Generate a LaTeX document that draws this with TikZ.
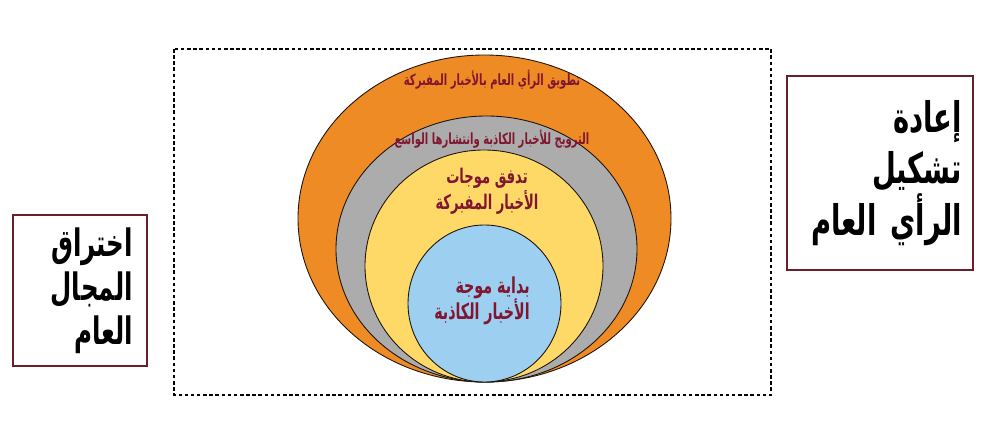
\documentclass[tikz,border=0pt]{standalone}
\usepackage{fontspec}
\newfontfamily\arabicfont[Script=Arabic,FakeStretch=0.65]{DejaVu Sans}
\TeXXeTstate=1
\definecolor{ringorange}{RGB}{239,139,36}
\definecolor{ringgray}{RGB}{172,172,172}
\definecolor{ringyellow}{RGB}{255,217,104}
\definecolor{ringblue}{RGB}{157,207,240}
\definecolor{wine}{RGB}{128,22,48}
\definecolor{boxred}{RGB}{105,30,42}
\begin{document}
\begin{tikzpicture}[x=0.02cm,y=-0.02cm,
  ring/.style={draw=black!85!brown,line width=0.5pt},
  ringtext/.style={text=wine,align=center,inner sep=0pt},
  sidebox/.style={draw=boxred,line width=1.2pt,align=right,text=black}]
\useasboundingbox (0,0) rectangle (1000,429);
% frame round the rings
\draw[line width=0.8pt,dash pattern=on 2pt off 1.5pt] (174,49) rectangle (771,395);
% rings, all touching at the bottom
\filldraw[ring,fill=ringorange] (484.5,218.5) ellipse [x radius=186.5,y radius=163.5];
\filldraw[ring,fill=ringgray] (486.5,249) ellipse [x radius=150.5,y radius=133];
\filldraw[ring,fill=ringyellow] (484,266) ellipse [x radius=119,y radius=116];
\filldraw[ring,fill=ringblue] (484.5,303.5) ellipse [x radius=76.5,y radius=78.5];
% ring labels
\node[ringtext,font=\arabicfont\bfseries\fontsize{8.8}{10}\selectfont] (surround) at (492,80) {\beginR تطويق الرأي العام بالأخبار المفبركة\endR};
\node[ringtext,font=\arabicfont\bfseries\fontsize{8.8}{10}\selectfont] (promote) at (492,139) {\beginR الترويج للأخبار الكاذبة وانتشارها الواسع\endR};
\node[ringtext,font=\arabicfont\bfseries\fontsize{11.5}{13}\selectfont] (flow) at (487,191) {\beginR تدفق موجات\endR\\\beginR الأخبار المفبركة\endR};
\node[ringtext,align=right,font=\arabicfont\bfseries\fontsize{12.5}{15}\selectfont] (start) at (482,301) {\beginR بداية موجة\endR\\\beginR الأخبار الكاذبة\endR};
% side boxes
\node[sidebox,minimum width=2.68cm,minimum height=3.02cm,text width=2.12cm,inner xsep=0.28cm,
  font=\arabicfont\bfseries\fontsize{21.5}{25}\selectfont] (breach) at (80,290.5)
  {\beginR اختراق\endR\\\beginR المجال\endR\\\beginR العام\endR};
\node[sidebox,minimum width=3.72cm,minimum height=3.88cm,text width=3.28cm,inner xsep=0.22cm,
  font=\arabicfont\bfseries\fontsize{24}{29.5}\selectfont] (reshape) at (880,173)
  {\beginR إعادة\endR\\\beginR تشكيل\endR\\\beginR الرأي العام\endR};
\end{tikzpicture}
\end{document}
